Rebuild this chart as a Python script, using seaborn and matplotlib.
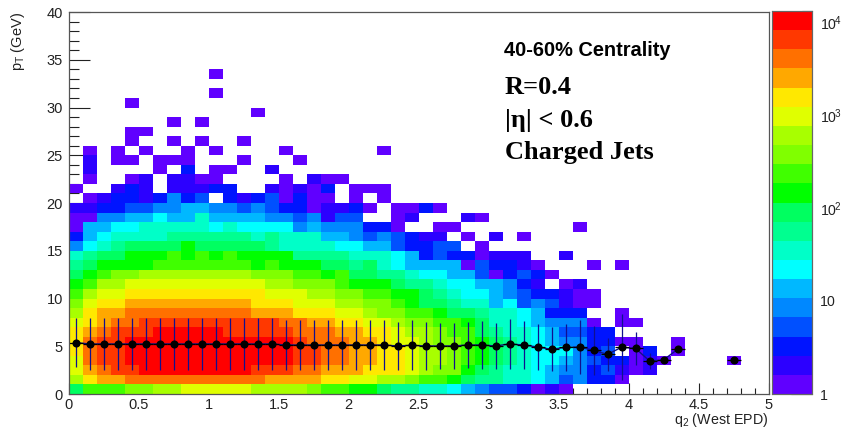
import numpy as np
import pandas as pd
import matplotlib
matplotlib.use("Agg")
import matplotlib.pyplot as plt
from matplotlib.colors import ListedColormap, LogNorm
import seaborn as sns

# ------------------------------
# Jet counts per q2 bin (0.1 wide), one list per pT bin (1 GeV wide)
# ------------------------------
pt00 = [90,230,230,230,370,370,600,600,960,960,960,960,960,600,600,600,600,370,230,230,145,145,90,56,56,35,35,22,13,8,5,5,3,1,2,1]
pt01 = [600,1550,2500,2500,4000,4000,4000,4000,4000,4000,4000,4000,4000,4000,2500,2500,2500,2500,1550,1550,960,960,600,600,370,230,230,145,90,56,56,35,35,22,13,5,8,3,3,1]
pt02 = [960,2500,4000,6400,6400,10300,10300,10300,10300,10300,10300,10300,10300,6400,6400,6400,4000,4000,2500,2500,2500,1550,1550,1550,960,600,370,370,145,90,56,35,35,22,13,8,8,3,5,2,1,2]
pt03 = [960,4000,6400,6400,10300,10300,10300,10300,10300,10300,10300,10300,10300,10300,10300,10300,6400,6400,4000,4000,2500,2500,1550,1550,960,600,600,370,230,145,90,56,35,22,22,13,8,5,3,3,1,2,1,0,0,0,0,1]
pt04 = [1550,4000,6400,6400,10300,10300,10300,10300,10300,10300,10300,10300,10300,10300,10300,10300,6400,6400,4000,4000,2500,2500,1550,1550,960,600,600,370,230,145,90,56,35,22,22,22,8,3,5,0,1,3,0,1]
pt05 = [1550,4000,6400,6400,10300,10300,10300,10300,10300,10300,10300,10300,10300,10300,10300,10300,6400,4000,4000,4000,2500,2500,1550,960,960,600,370,370,230,145,90,56,35,22,13,8,8,3,3,1,1,0,0,1]
pt06 = [1550,2500,4000,6400,6400,6400,10300,10300,10300,10300,10300,6400,6400,6400,6400,6400,4000,4000,4000,2500,2500,1550,1550,960,600,600,370,230,230,90,56,35,35,22,13,5,5,3,3]
pt07 = [960,1550,2500,4000,4000,6400,6400,6400,6400,6400,6400,6400,6400,6400,6400,4000,4000,2500,2500,1550,1550,960,960,600,370,370,230,230,145,90,35,35,22,13,8,8,8,1,0,1,1]
pt08 = [600,1550,2500,2500,4000,4000,4000,4000,4000,4000,4000,4000,4000,2500,2500,2500,1550,1550,1550,960,960,600,370,370,230,230,145,90,90,56,35,35,22,13,3,3,3,0,0,1]
pt09 = [370,960,1550,1550,2500,2500,2500,2500,2500,2500,2500,2500,2500,1550,1550,1550,960,960,960,600,600,370,370,230,145,90,90,56,35,35,13,22,5,8,5,2,1,1]
pt10 = [230,600,960,960,1550,1550,1550,1550,1550,1550,1550,1550,1550,1550,960,960,960,600,600,370,370,230,230,145,145,90,56,35,22,22,13,8,5,3,3,2,1,1]
pt11 = [145,230,600,600,960,960,960,960,960,960,960,960,960,960,600,600,370,370,370,230,145,145,145,90,56,56,35,22,22,13,13,8,3,2,0,1,2]
pt12 = [90,145,230,370,370,600,600,600,600,600,600,600,600,370,370,370,230,230,145,230,90,90,56,56,35,22,22,13,13,5,1,3,5,3,1]
pt13 = [56,90,145,145,145,145,230,230,230,230,230,230,230,145,230,145,145,145,90,90,56,90,35,22,13,13,13,13,1,5,3,3,2,1,0,0,0,1,0,1]
pt14 = [35,56,90,90,145,145,145,230,145,230,145,230,145,145,145,145,56,56,56,56,35,35,35,22,13,3,5,3,3,1,2,2,2,0,0,2]
pt15 = [8,22,35,56,90,90,90,90,145,90,90,90,90,90,56,35,35,35,35,22,22,13,13,5,3,3,5,5,0,1]
pt16 = [3,13,22,35,35,35,35,56,56,56,56,56,56,35,56,35,35,35,13,13,8,5,8,5,3,2,2,0,1,0,2,0,1]
pt17 = [1,13,13,22,22,35,35,35,35,35,22,35,22,22,22,22,8,13,8,8,8,3,3,1,0,0,1,1,0,0,0,0,0,0,0,0,1]
pt18 = [1,1,8,8,13,13,22,13,13,35,13,13,13,13,8,8,5,8,2,5,5,0,0,1,2,0,0,0,2,1]
pt19 = [2,2,3,3,5,5,8,8,13,13,8,8,5,8,5,3,3,1,2,2,3,1,0,1,1,3,1]
pt20 = [0,1,2,3,3,2,3,8,3,5,0,3,2,3,5,1,3,1,1,0,1,0,1]
pt21 = [1,0,0,2,3,2,0,2,2,2,3,3,0,0,2,1,2,1,3,0,1,1,1]
pt22 = [0,1,0,0,1,2,0,2,2,1,1,0,0,0,0,1,0,2,1,1]
pt23 = [0,2,0,0,0,0,1,0,3,0,1,1,0,0,2]
pt24 = [0,2,0,1,1,0,1,1,1,0,0,0,1,0,0,0,1]
pt25 = [0,1,0,1,0,1,0,0,1,0,1,0,0,0,0,1,0,0,0,0,0,0,1]
pt26 = [0,0,0,0,1,0,0,1,0,1,0,0,1]
pt27 = [0,0,0,0,1,1]
pt28 = [0,0,0,0,0,0,0,1,0,1]
pt29 = [0,0,0,0,0,0,0,0,0,0,0,0,0,1]
pt30 = [0,0,0,0,1]
pt31 = [0,0,0,0,0,0,0,0,0,0,1]
pt32 = []
pt33 = [0,0,0,0,0,0,0,0,0,0,1]
pt_rows = [pt00,pt01,pt02,pt03,pt04,pt05,pt06,pt07,pt08,pt09,pt10,pt11,pt12,pt13,pt14,pt15,pt16,
           pt17,pt18,pt19,pt20,pt21,pt22,pt23,pt24,pt25,pt26,pt27,pt28,pt29,pt30,pt31,pt32,pt33]

# ------------------------------
# Mean pT profile
# ------------------------------
prof_q = [0.05,0.15,0.25,0.35,0.45,0.55,0.65,0.75,0.85,0.95,1.05,1.15,1.25,1.35,1.45,1.55,1.65,1.75,1.85,1.95,
          2.05,2.15,2.25,2.35,2.45,2.55,2.65,2.75,2.85,2.95,3.05,3.15,3.25,3.35,3.45,3.55,3.65,3.75,3.85,3.95,
          4.05,4.15,4.25,4.35,4.75]
prof_mean = [5.38,5.24,5.24,5.24,5.24,5.24,5.24,5.24,5.24,5.24,5.24,5.24,5.24,5.24,5.24,5.13,5.13,5.13,5.13,5.13,
             5.13,5.13,5.13,5.03,5.10,5.03,5.03,5.03,5.13,5.13,5.03,5.24,5.13,4.92,4.68,4.89,4.92,4.57,4.15,4.89,
             4.78,3.46,3.56,4.68,3.56]
prof_err = [2.53,2.70,2.70,2.70,2.70,2.70,2.70,2.70,2.70,2.70,2.70,2.70,2.70,2.70,2.70,2.65,2.65,2.65,2.65,2.65,
            2.65,2.65,2.58,2.50,2.60,2.50,2.44,2.44,2.44,2.53,2.44,2.62,2.50,2.41,2.32,2.44,2.79,2.56,1.69,3.44,
            1.75,0.79,0,0,0]

x_ticks = [0,0.5,1,1.5,2,2.5,3,3.5,4,4.5,5]
x_labels = ["0","0.5","1","1.5","2","2.5","3","3.5","4","4.5","5"]
y_ticks = [0,5,10,15,20,25,30,35,40]
bar_ticks = [1,10,100,1000,10000]
bar_labels = ["1","10",r"$\mathregular{10^{\!2}}$",r"$\mathregular{10^{\!3}}$",r"$\mathregular{10^{\!4}}$"]

palette = ["#6000ff","#2c00ff","#0014ff","#0050ff","#0088ff","#00b8ff","#00ffff","#00ffc8","#00ff90","#00ff60",
           "#00ff00","#40ff00","#80ff00","#a8ff00","#e0ff00","#ffe800","#ffa800","#ff7000","#ff3800","#ff0000"]

W, H = 841, 433

sns.set_theme(style="white")
plt.rcParams["font.family"] = ["Liberation Sans", "DejaVu Sans"]

df = pd.DataFrame(pt_rows).reindex(index=range(40), columns=range(50)).replace(0, np.nan)

fig = plt.figure(figsize=(W/100, H/100), dpi=100)
ax = fig.add_axes([68.5/W, 1-394/H, 700/W, 382/H])
cax = fig.add_axes([771.5/W, 1-394/H, 40.5/W, 383/H])

sns.heatmap(df, ax=ax, cbar_ax=cax, cmap=ListedColormap(palette), norm=LogNorm(vmin=1, vmax=13100),
            xticklabels=False, yticklabels=False)
ax.set_ylim(0, 40)
ax.set_xlim(0, 50)
ax.set_xlabel("")
ax.set_ylabel("")
ax.set_facecolor("white")
for s in ax.spines.values():
    s.set_visible(True)
    s.set_color("#555555")
    s.set_linewidth(0.9)

# heatmap cells sit at integer positions, so q2 gets scaled by 10
ax.set_xticks([v*10 for v in x_ticks])
ax.set_xticklabels(x_labels, fontsize=10.5, color="#222222")
ax.set_xticks([v for v in range(51) if v % 5], minor=True)
ax.set_yticks(y_ticks)
ax.set_yticklabels([str(v) for v in y_ticks], fontsize=10.5, color="#222222", rotation=0)
ax.set_yticks([v for v in range(41) if v % 5], minor=True)
ax.tick_params(axis="x", which="major", direction="in", length=8, width=0.8, color="#222222", bottom=True, pad=3)
ax.tick_params(axis="x", which="minor", direction="in", length=4.5, width=0.8, color="#222222", bottom=True)
ax.tick_params(axis="y", which="major", direction="in", length=15, width=0.8, color="#222222", left=True, pad=4)
ax.tick_params(axis="y", which="minor", direction="in", length=7.5, width=0.8, color="#222222", left=True)

# profile on top of the map
q_scaled = [q*10 for q in prof_q]
sns.lineplot(x=q_scaled[:-1], y=prof_mean[:-1], ax=ax, color="#10108c", lw=1, sort=False, errorbar=None)
ax.errorbar(q_scaled, prof_mean, yerr=prof_err, fmt="none", ecolor="#101090", elinewidth=0.9)
ax.errorbar(q_scaled, prof_mean, xerr=0.5, fmt="none", ecolor="black", elinewidth=0.9)
sns.scatterplot(x=q_scaled, y=prof_mean, ax=ax, color="black", s=34, linewidth=0, zorder=5)

# colour bar
cax.set_yscale("log")
cax.set_ylim(1, 13100)
cax.set_yticks(bar_ticks)
cax.set_yticklabels(bar_labels, fontsize=10.2, color="#222222")
minor_bar = [m*d for d in [1,10,100,1000] for m in range(2,10)] + [11000,12000,13000]
cax.set_yticks(minor_bar, minor=True)
cax.set_yticklabels([], minor=True)
cax.yaxis.tick_right()
cax.tick_params(axis="y", which="major", direction="in", length=15, width=0.8, color="#222222", right=True, pad=5.5)
cax.tick_params(axis="y", which="minor", direction="in", length=7.5, width=0.8, color="#222222", right=True)
for s in cax.spines.values():
    s.set_visible(True)
    s.set_color("#666666")
    s.set_linewidth(0.8)

# axis titles
fig.text(768/W, 1-420/H, r"$\mathregular{q_{2}}$ (West EPD)", ha="right", va="center", fontsize=10.3, color="#222222")
fig.text(18/W, 1-12/H, r"$\mathregular{p_{T}}$ (GeV)", rotation=90, ha="center", va="top", fontsize=10.5, color="#222222")

# annotations
fig.text(504/W, 1-51/H, "40-60% Centrality", ha="left", va="center", fontsize=14.4, fontweight="bold", color="black")
for txt, y in [("R=0.4", 88), ("|η| < 0.6", 120), ("Charged Jets", 153)]:
    fig.text(505/W, 1-y/H, txt, ha="left", va="center", fontsize=19, fontweight="bold",
             family=["Liberation Serif", "DejaVu Serif"], color="black")

plt.savefig("out.png", dpi=100)
